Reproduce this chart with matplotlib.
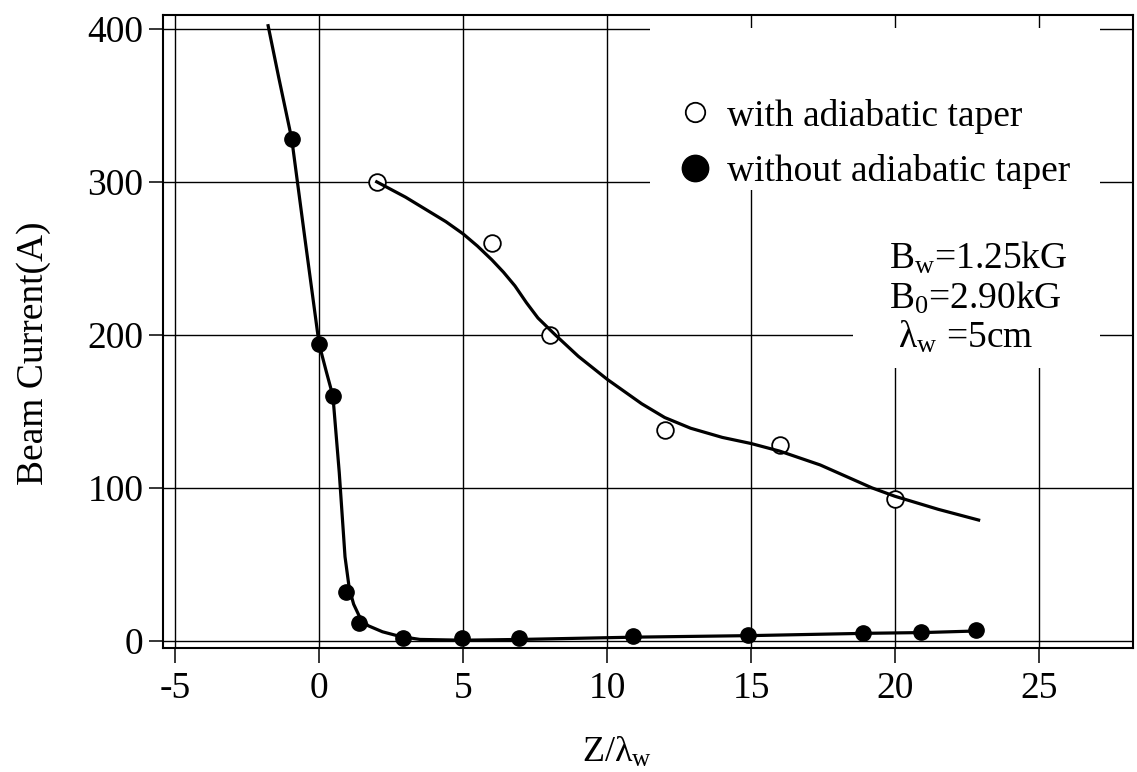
import numpy as np
import matplotlib
matplotlib.use("Agg")
import matplotlib.pyplot as plt
from matplotlib.lines import Line2D
from matplotlib.patches import Rectangle

plt.rcParams['font.family'] = ['Liberation Serif', 'DejaVu Serif']
plt.rcParams['mathtext.fontset'] = 'custom'
plt.rcParams['mathtext.rm'] = 'Liberation Serif'
plt.rcParams['mathtext.it'] = 'Liberation Serif:italic'

# measured points
z_with = [2, 6, 8, 12, 16, 20]
i_with = [300, 260, 200, 138, 128, 93]

z_without = [-0.95, 0.0, 0.48, 0.93, 1.38, 2.9, 4.95, 6.95, 10.9, 14.9, 18.9, 20.9, 22.8]
i_without = [328, 194, 160, 32, 12, 2, 2, 2, 3, 4, 5.5, 6, 7]

# hand-drawn guide curves
z_fit_with = [2.0, 2.2, 3.0, 3.7, 4.4, 5.0, 5.5, 6.0, 6.4, 6.8, 7.2, 7.6, 8.2, 9.0,
              10.0, 11.2, 12.0, 12.9, 14.0, 15.0, 16.0, 17.4, 19.2, 20.0, 21.5, 22.9]
i_fit_with = [300, 298, 290, 282, 274, 266, 258, 249, 241, 232, 221, 211, 200, 186,
              171, 155, 146, 139, 133, 129, 124, 115, 100, 94.5, 86, 79]

z_fit_without = [-1.77, -1.4, -0.95, -0.5, 0.0, 0.25, 0.48, 0.7, 0.9, 1.05, 1.2, 1.4,
                 1.7, 2.2, 2.8, 3.5, 5.0, 7.0, 11.0, 15.0, 19.0, 21.0, 22.8]
i_fit_without = [402, 368, 328, 264, 194, 176, 160, 110, 55, 34, 24, 16,
                 10, 6, 3, 1, 0.5, 1, 2.5, 3.5, 5, 5.5, 6.5]

xticks = [-5, 0, 5, 10, 15, 20, 25]
yticks = [0, 100, 200, 300, 400]

fig = plt.figure(figsize=(11.37, 7.72), dpi=100)
ax = fig.add_axes([163 / 1137, 1 - 648 / 772, 970 / 1137, 633 / 772])

ax.set_xlim(-5.42, 28.26)
ax.set_ylim(-4.6, 409)
ax.set_xticks(xticks)
ax.set_yticks(yticks)
ax.set_xticklabels([str(v) for v in xticks])
ax.set_yticklabels([str(v) for v in yticks])
ax.set_axisbelow(True)
ax.grid(True, color='black', linewidth=1.0)

for s in ax.spines.values():
    s.set_linewidth(1.5)

ax.tick_params(direction='out', length=11, width=1.1, labelsize=27, pad=6)
ax.tick_params(axis='y', length=10, pad=4)

# white areas behind legend and annotation (grid is blanked there)
ax.add_patch(Rectangle((0.502, 0.7235), 0.464, 0.2555, transform=ax.transAxes,
                       facecolor='white', edgecolor='none', zorder=1))
ax.add_patch(Rectangle((0.711, 0.442), 0.255, 0.282, transform=ax.transAxes,
                       facecolor='white', edgecolor='none', zorder=1))

ax.plot(z_fit_with, i_fit_with, color='black', linewidth=2.3, zorder=3)
ax.plot(z_fit_without, i_fit_without, color='black', linewidth=2.3, zorder=3)
ax.plot(z_with, i_with, linestyle='none', marker='o', markersize=12,
        markerfacecolor='white', markeredgecolor='black', markeredgewidth=1.3, zorder=2)
ax.plot(z_without, i_without, linestyle='none', marker='o', markersize=11,
        color='black', zorder=4)

handles = [
    Line2D([], [], linestyle='none', marker='o', markersize=14,
           markerfacecolor='white', markeredgecolor='black', markeredgewidth=1.3),
    Line2D([], [], linestyle='none', marker='o', markersize=19, color='black'),
]
ax.legend(handles, ['with adiabatic taper', 'without adiabatic taper'],
          loc='upper left', bbox_to_anchor=(0.529, 0.868), frameon=False,
          fontsize=27, handlelength=1.0, handletextpad=0.35, labelspacing=0.55,
          borderpad=0, borderaxespad=0)

ax.text(0.748, 0.553, 'B$_{\\rm w}$=1.25kG\nB$_{\\rm 0}$=2.90kG\n λ$_{\\rm w}$ =5cm',
        transform=ax.transAxes, fontsize=27, va='center', ha='left',
        linespacing=1.12, zorder=5)

ax.set_ylabel('Beam Current(A)', fontsize=27)
ax.yaxis.set_label_coords(-0.115, 0.465)
ax.set_xlabel('Z/λ$_{\\rm w}$', fontsize=26)
ax.xaxis.set_label_coords(0.468, -0.138)

fig.savefig('out.png', dpi=100)
